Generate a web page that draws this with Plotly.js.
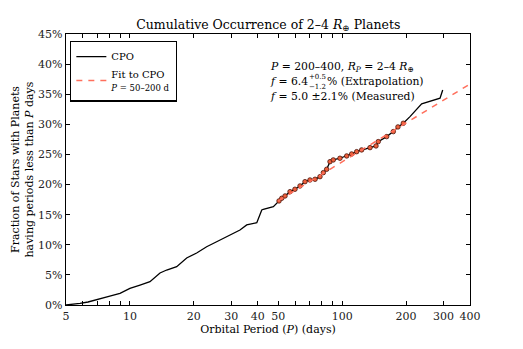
<!DOCTYPE html>
<html><head><meta charset="utf-8">
<script src="https://cdn.plot.ly/plotly-3.0.1.min.js"></script>
<style>html,body{margin:0;padding:0;background:#fff}#chart{width:523px;height:349px}</style>
</head><body><div id="chart"></div>
<script>
// Cumulative planet occurrence (CPO) vs orbital period
var cpoPeriod = [5.0, 5.33, 5.82, 6.35, 6.97, 7.88, 8.98, 10.0, 11.16, 12.43, 13.86, 14.9, 16.61, 18.51, 20.63, 22.99, 25.62, 28.56, 33.0, 35.5, 38.1, 39.6, 41.8, 42.5, 47.4, 50.4, 51.9, 53.8, 56.8, 59.9, 63.3, 66.8, 70.5, 74.5, 78.6, 81.5, 84.5, 87.6, 90.8, 97.6, 105.0, 110.8, 117.0, 123.5, 135.2, 144.3, 147.9, 162.0, 174.1, 183.1, 194.0, 208.6, 236.8, 289.0, 297.5];
var cpoFrac   = [0.0, 0.08, 0.28, 0.5, 0.83, 1.38, 1.94, 2.77, 3.32, 3.87, 5.32, 5.81, 6.36, 7.81, 8.64, 9.68, 10.5, 11.35, 12.46, 13.29, 13.57, 13.67, 15.78, 15.9, 16.33, 17.28, 17.72, 18.11, 18.82, 19.22, 19.77, 20.48, 20.76, 20.88, 21.31, 21.98, 22.54, 23.8, 24.09, 24.37, 24.75, 25.08, 25.46, 25.75, 26.13, 26.41, 27.13, 27.96, 28.79, 29.57, 30.18, 31.28, 33.39, 34.34, 35.71];
// Fit to CPO over P = 50-200 d, extrapolated
var fitPeriod = [50, 100, 200, 400];
var fitFrac   = [17.3, 23.8, 30.2, 36.7];
var fitRange  = [50, 200];
var xTickVals = [5, 10, 20, 30, 40, 50, 100, 200, 300, 400];
var xTickText = ['5', '10', '20', '30', '40', '50', '100', '200', '300', '400'];
var xMinorVals = [6, 7, 8, 9, 60, 70, 80, 90];

var mP = [], mF = [];
for (var i = 0; i < cpoPeriod.length; i++) {
  if (cpoPeriod[i] >= fitRange[0] && cpoPeriod[i] <= fitRange[1]) { mP.push(cpoPeriod[i]); mF.push(cpoFrac[i]); }
}
var font = 'DejaVu Serif, serif';
var traces = [
  {x: cpoPeriod, y: cpoFrac, type: 'scatter', mode: 'lines', name: 'CPO',
   line: {color: '#000', width: 1.3}},
  {x: mP, y: mF, type: 'scatter', mode: 'markers', showlegend: false,
   marker: {color: '#f0603c', size: 4.5, line: {color: '#4a140a', width: 0.8}}},
  {x: fitPeriod, y: fitFrac, type: 'scatter', mode: 'lines',
   name: 'Fit to CPO<br><span style="font-size:8.5px"><i>P</i> = 50–200 d</span>',
   line: {color: '#ff6f5c', width: 1.5, dash: '6px,6px'}}
];
var axCommon = {showline: true, linecolor: '#000', linewidth: 1.3, mirror: 'allticks',
  ticks: 'inside', ticklen: 4, tickwidth: 1, tickcolor: '#000', showgrid: false, zeroline: false,
  tickfont: {family: font, size: 11, color: '#222'}};
var annFont = {family: font, size: 10.8, color: '#000'};
var layout = {
  width: 523, height: 349,
  margin: {l: 66, r: 53, t: 34, b: 44},
  paper_bgcolor: '#fff', plot_bgcolor: '#fff',
  font: {family: font, size: 11, color: '#000'},
  title: {text: 'Cumulative Occurrence of 2–4 <i>R</i><sub>⊕</sub> Planets', x: 0.513, xanchor: 'center', y: 0.93, yanchor: 'middle',
          font: {family: font, size: 12.5, color: '#000'}},
  xaxis: Object.assign({}, axCommon, {type: 'log', range: [Math.log10(5), Math.log10(400)],
    tickmode: 'array', tickvals: xTickVals, ticktext: xTickText,
    minor: {tickmode: 'array', tickvals: xMinorVals, ticks: 'inside', ticklen: 4, tickwidth: 1, tickcolor: '#000', showgrid: false},
    title: {text: 'Orbital Period (<i>P</i>) (days)', font: {family: font, size: 11}, standoff: 3}}),
  yaxis: Object.assign({}, axCommon, {range: [0, 45], dtick: 5, ticksuffix: '%',
    title: {text: 'Fraction of Stars with Planets<br>having periods less than <i>P</i> days', font: {family: font, size: 11}, standoff: 2}}),
  showlegend: true,
  legend: {x: 0.01, y: 0.975, xanchor: 'left', yanchor: 'top', bgcolor: '#fff', bordercolor: '#000', borderwidth: 1.3,
    font: {family: font, size: 10}, tracegroupgap: 0, itemwidth: 30},
  annotations: [
    {xref: 'paper', yref: 'paper', x: 0.5, y: 0.878, xanchor: 'left', yanchor: 'middle', showarrow: false,
     text: '<i>P</i> = 200–400, <i>R<sub>P</sub></i> = 2–4 <i>R</i><sub>⊕</sub>', font: annFont},
    {xref: 'paper', yref: 'paper', x: 0.5, y: 0.823, xanchor: 'left', yanchor: 'middle', showarrow: false,
     text: '<i>f</i> = 6.4', font: annFont},
    {xref: 'paper', yref: 'paper', x: 0.597, y: 0.843, xanchor: 'left', yanchor: 'middle', showarrow: false,
     text: '+0.5', font: {family: font, size: 7}},
    {xref: 'paper', yref: 'paper', x: 0.597, y: 0.804, xanchor: 'left', yanchor: 'middle', showarrow: false,
     text: '−1.2', font: {family: font, size: 7}},
    {xref: 'paper', yref: 'paper', x: 0.64, y: 0.823, xanchor: 'left', yanchor: 'middle', showarrow: false,
     text: '% (Extrapolation)', font: annFont},
    {xref: 'paper', yref: 'paper', x: 0.5, y: 0.771, xanchor: 'left', yanchor: 'middle', showarrow: false,
     text: '<i>f</i> = 5.0 ±2.1% (Measured)', font: annFont}
  ]
};
Plotly.newPlot('chart', traces, layout, {staticPlot: true, displayModeBar: false});
</script></body></html>
